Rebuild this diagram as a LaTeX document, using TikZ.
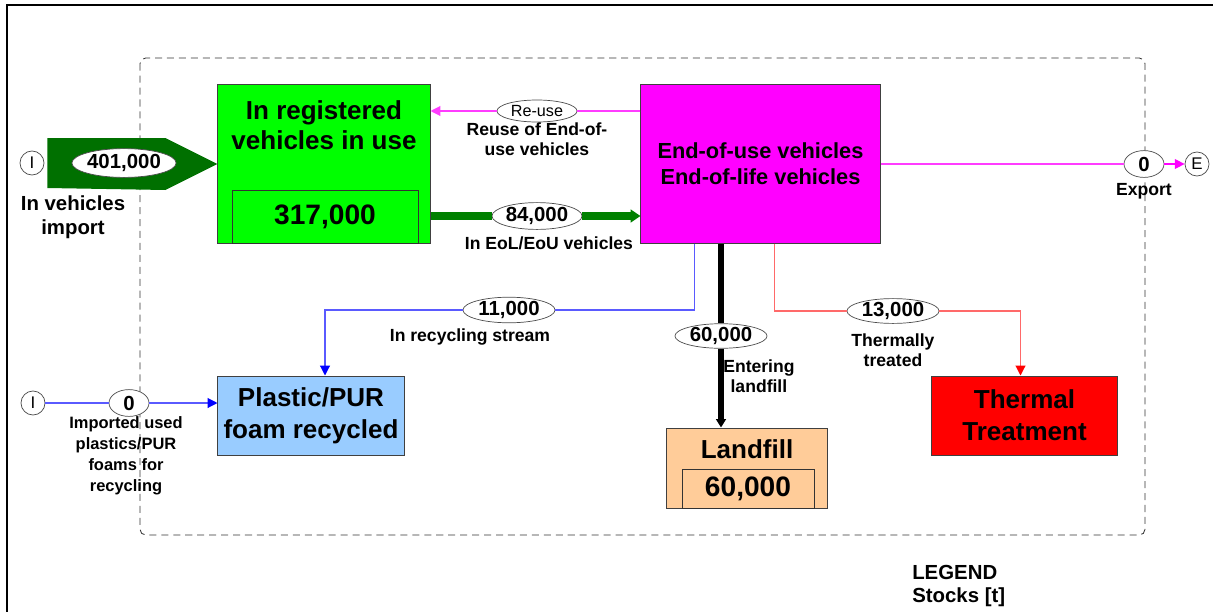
\documentclass[tikz,border=0pt]{standalone}
\usepackage{fontspec}
\setmainfont{Liberation Sans}
\usetikzlibrary{shapes.geometric,arrows.meta,calc}
\definecolor{stockgreen}{RGB}{0,255,0}
\definecolor{importgreen}{RGB}{0,112,0}
\definecolor{flowgreen}{RGB}{0,128,0}
\definecolor{eoumagenta}{RGB}{255,0,255}
\definecolor{reusemagenta}{RGB}{255,60,255}
\definecolor{plasticblue}{RGB}{153,204,255}
\definecolor{recblue}{RGB}{90,90,255}
\definecolor{landfillorange}{RGB}{255,204,153}
\definecolor{thermred}{RGB}{255,0,0}
\definecolor{thermline}{RGB}{255,105,105}

\begin{document}
\begin{tikzpicture}[x=0.025cm,y=-0.025cm,
    box/.style={draw=black!75,line width=0.7pt,inner sep=0pt,align=center,
      font=\fontsize{18.5}{22.5}\selectfont\bfseries},
    stockbox/.style={draw=black!80,line width=0.6pt,inner sep=0pt,
      font=\fontsize{20}{22}\selectfont\bfseries},
    flowval/.style={ellipse,draw=black!70,fill=white,line width=0.5pt,inner sep=0pt,
      font=\fontsize{14.5}{16}\selectfont\bfseries},
    flowlabel/.style={align=center,inner sep=0pt,font=\fontsize{12.5}{14.3}\selectfont\bfseries},
    ioport/.style={circle,draw=black!70,fill=white,line width=0.5pt,inner sep=0pt,
      minimum size=0.6cm,font=\fontsize{12}{14}\selectfont},
    tip/.style={-{Triangle[length=7pt,width=7pt]}}]

\useasboundingbox (0,0) rectangle (1213,612);
\draw[line width=1pt] (7,612) -- (7,5) -- (1213,5);
\draw[black!80,line width=0.6pt,dash pattern=on 5pt off 3.5pt,rounded corners=4pt] (140,58) rectangle (1145,535);

% stocks / processes
\node[box,fill=stockgreen,minimum width=5.3cm,minimum height=3.95cm] (inuse) at (324,164) {};
\node[flowlabel,font=\fontsize{18.5}{21.3}\selectfont\bfseries] (inuseT) at (324,125) {In registered\\vehicles in use};
\node[stockbox,minimum width=4.65cm,minimum height=1.325cm] (inuseS) at (325,216.5) {317,000};
\node[box,fill=eoumagenta,minimum width=5.975cm,minimum height=3.95cm,
  font=\fontsize{15.5}{18.5}\selectfont\bfseries] (eou) at (760.5,164) {End-of-use vehicles\\End-of-life vehicles};
\node[box,fill=plasticblue,minimum width=4.65cm,minimum height=1.975cm] (plastic) at (311,415.5) {Plastic/PUR\\foam recycled};
\node[box,fill=landfillorange,minimum width=4cm,minimum height=2cm] (landfill) at (747,468) {};
\node[flowlabel,font=\fontsize{18.5}{21}\selectfont\bfseries] (landfillT) at (747,449) {Landfill};
\node[stockbox,minimum width=3.3cm,minimum height=0.975cm] (landfillS) at (748,488.5) {60,000};
\node[box,fill=thermred,minimum width=4.625cm,minimum height=1.975cm] (thermal) at (1024.5,415.5) {Thermal\\Treatment};

% system boundary ports
\node[ioport] (impI) at (32,163) {I};
\node[ioport] (impI2) at (33,403) {I};
\node[ioport] (expE) at (1197,164) {E};

% import of vehicles
\fill[importgreen] ($(impI.east)+(3,-25)$) -- ($(inuse.west)+(-52,-26)$) -- (inuse.west)
  -- ($(inuse.west)+(-52,26)$) -- ($(impI.east)+(3,25)$) -- cycle;

% flow values
\node[flowval,minimum width=2.2cm,minimum height=0.72cm] (val401) at (124,163) {401,000};
\node[flowval,minimum width=2cm,minimum height=0.55cm,font=\fontsize{11.5}{13}\selectfont] (reuse) at (537,111) {Re-use};
\node[flowval,minimum width=2.25cm,minimum height=0.67cm] (val84) at (537,216) {84,000};
\node[flowval,minimum width=1cm,minimum height=0.67cm] (valexp) at (1144,164) {0};
\node[flowval,minimum width=2.3cm,minimum height=0.64cm] (val11) at (509,310) {11,000};
\node[flowval,minimum width=2.3cm,minimum height=0.6cm] (val60) at (721,336) {60,000};
\node[flowval,minimum width=2.3cm,minimum height=0.62cm] (val13) at (893,311) {13,000};
\node[flowval,minimum width=1cm,minimum height=0.67cm] (valimp) at (129,403) {0};

% flows
\draw[reusemagenta,line width=0.8pt] (eou.west |- reuse.east) -- (reuse.east);
\draw[reusemagenta,line width=0.8pt,tip] (reuse.west) -- (inuse.east |- reuse.west);
\draw[flowgreen,line width=5pt] (inuse.east |- val84.west) -- (val84.west);
\draw[flowgreen,line width=5pt,-{Triangle[length=7pt,width=9pt]}] (val84.east) -- (eou.west |- val84.east);
\draw[reusemagenta,line width=0.8pt] (eou.east |- valexp.west) -- (valexp.west);
\draw[eoumagenta,line width=0.8pt,tip] (valexp.east) -- (expE.west);
\draw[recblue,line width=0.8pt] ($(eou.south west)+(54,0)$) |- (val11.east);
\draw[recblue,line width=0.8pt,-{Triangle[length=7pt,width=7pt,color=blue]}] (val11.west) -| ($(plastic.north)+(14,0)$);
\draw[recblue,line width=0.8pt] (impI2.east) -- (valimp.west);
\draw[recblue,line width=0.8pt,-{Triangle[length=7pt,width=7pt,color=blue]}] (valimp.east) -- (plastic.west |- valimp.east);
\draw[black,line width=3.6pt] (eou.south -| val60.north) -- (val60.north);
\draw[black,line width=3.6pt,-{Triangle[length=6pt,width=7pt]}] (val60.south) -- (landfill.north -| val60.south);
\draw[thermline,line width=0.8pt] ($(eou.south west)+(134,0)$) |- (val13.west);
\draw[thermline,line width=0.8pt,-{Triangle[length=7pt,width=7pt,color=thermred]}] (val13.east) -| ($(thermal.north)+(-4,0)$);

% flow labels
\node[flowlabel,font=\fontsize{14.5}{17}\selectfont\bfseries] (lblimport) at (73,217) {In vehicles\\import};
\node[flowlabel] (lblreuse) at (537,139) {Reuse of End-of-\\use vehicles};
\node[flowlabel] (lbleol) at (549,243) {In EoL/EoU vehicles};
\node[flowlabel] (lblexp) at (1144,191) {Export};
\node[flowlabel] (lblrec) at (470,337) {In recycling stream};
\node[flowlabel,anchor=west] (lbllandfill) at (723,376) {Entering\\landfill};
\node[flowlabel] (lbltherm) at (893,350) {Thermally\\treated};
\node[flowlabel,font=\fontsize{11.7}{15}\selectfont\bfseries] (lblimp) at (126,456) {Imported used\\plastics/PUR\\foams for\\recycling};
\node[flowlabel,anchor=west,align=left,font=\fontsize{14.5}{17}\selectfont\bfseries] (legend) at (912,586) {LEGEND\\Stocks [t]};
\end{tikzpicture}
\end{document}
